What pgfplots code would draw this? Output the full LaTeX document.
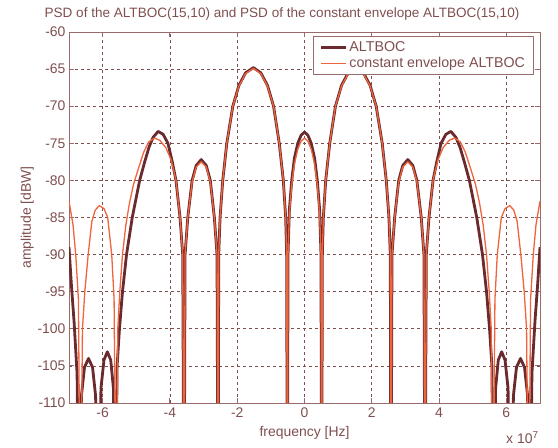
\documentclass[border=0pt]{standalone}
\usepackage{fontspec}
\setmainfont{Liberation Sans}
\usepackage{pgfplots}
\usepackage{pgfplotstable}
\pgfplotsset{compat=1.18}

\definecolor{txt}{HTML}{7F4F4F}
\definecolor{axc}{HTML}{9A6B6B}
\definecolor{dk}{HTML}{6B2A2E}
\definecolor{og}{HTML}{F0643C}

% ALTBOC(15,10) PSD, frequency in units of 1e7 Hz
\pgfplotstableread{
x y
-7.00 -89
-6.93 -94
-6.85 -99
-6.76 -106
-6.70 -130
-6.63 -109
-6.54 -105.2
-6.42 -104.0
-6.30 -105.2
-6.21 -109
-6.13 -130
-6.05 -108
-5.96 -104.2
-5.86 -103.1
-5.76 -104.2
-5.68 -108
-5.62 -130
-5.57 -105
-5.50 -100
-5.41 -95
-5.29 -90
-5.12 -85
-4.90 -80
-4.75 -77.5
-4.62 -75.5
-4.50 -74.2
-4.35 -73.4
-4.20 -73.8
-4.06 -75
-3.93 -77.5
-3.82 -80
-3.70 -85
-3.62 -90
-3.58 -130
-3.55 -90
-3.47 -85
-3.34 -80
-3.22 -78
-3.07 -77.2
-2.92 -78
-2.80 -80
-2.68 -85
-2.60 -90
-2.57 -130
-2.55 -90
-2.51 -85
-2.43 -80
-2.31 -75
-2.13 -70
-1.95 -67.2
-1.75 -65.5
-1.52 -64.8
-1.30 -65.5
-1.10 -67.2
-0.92 -70
-0.75 -75
-0.63 -80
-0.56 -85
-0.53 -90
-0.51 -130
-0.49 -90
-0.45 -84
-0.38 -80
-0.30 -77
-0.20 -75
-0.10 -73.9
0.00 -73.5
0.10 -73.9
0.20 -75
0.30 -77
0.38 -80
0.45 -84
0.49 -90
0.51 -130
0.53 -90
0.56 -85
0.63 -80
0.75 -75
0.92 -70
1.10 -67.2
1.30 -65.5
1.52 -64.8
1.75 -65.5
1.95 -67.2
2.13 -70
2.31 -75
2.43 -80
2.51 -85
2.55 -90
2.57 -130
2.60 -90
2.68 -85
2.80 -80
2.92 -78
3.07 -77.2
3.22 -78
3.34 -80
3.47 -85
3.55 -90
3.58 -130
3.62 -90
3.70 -85
3.82 -80
3.93 -77.5
4.06 -75
4.20 -73.8
4.35 -73.4
4.50 -74.2
4.62 -75.5
4.75 -77.5
4.90 -80
5.12 -85
5.29 -90
5.41 -95
5.50 -100
5.57 -105
5.62 -130
5.68 -108
5.76 -104.2
5.86 -103.1
5.96 -104.2
6.05 -108
6.13 -130
6.21 -109
6.30 -105.2
6.42 -104.0
6.54 -105.2
6.63 -109
6.70 -130
6.76 -106
6.85 -99
6.93 -94
7.00 -89
}\altboc

% constant envelope ALTBOC(15,10) PSD
\pgfplotstableread{
x y
-7.00 -82.8
-6.88 -86
-6.80 -90
-6.72 -96
-6.66 -130
-6.60 -100
-6.53 -95
-6.43 -90
-6.32 -85.5
-6.22 -84
-6.10 -83.4
-5.96 -83.8
-5.85 -85
-5.73 -90
-5.66 -96
-5.60 -130
-5.55 -100
-5.49 -95
-5.41 -90
-5.31 -86
-5.20 -83
-5.08 -80.5
-4.93 -78.3
-4.78 -76.2
-4.63 -74.8
-4.46 -74.3
-4.30 -74.6
-4.12 -75.6
-3.96 -77.3
-3.82 -80
-3.70 -85
-3.62 -90
-3.58 -130
-3.55 -90
-3.47 -85
-3.34 -80.2
-3.22 -78.2
-3.07 -77.5
-2.92 -78.2
-2.80 -80.2
-2.68 -85
-2.60 -90
-2.57 -130
-2.55 -90
-2.51 -85
-2.43 -80
-2.31 -75
-2.13 -70
-1.95 -67.3
-1.75 -65.6
-1.52 -64.9
-1.30 -65.6
-1.10 -67.3
-0.92 -70
-0.75 -75
-0.63 -80
-0.56 -85
-0.53 -90
-0.51 -130
-0.49 -90
-0.45 -84.5
-0.38 -80.6
-0.30 -77.8
-0.20 -75.8
-0.10 -74.7
0.00 -74.3
0.10 -74.7
0.20 -75.8
0.30 -77.8
0.38 -80.6
0.45 -84.5
0.49 -90
0.51 -130
0.53 -90
0.56 -85
0.63 -80
0.75 -75
0.92 -70
1.10 -67.3
1.30 -65.6
1.52 -64.9
1.75 -65.6
1.95 -67.3
2.13 -70
2.31 -75
2.43 -80
2.51 -85
2.55 -90
2.57 -130
2.60 -90
2.68 -85
2.80 -80.2
2.92 -78.2
3.07 -77.5
3.22 -78.2
3.34 -80.2
3.47 -85
3.55 -90
3.58 -130
3.62 -90
3.70 -85
3.82 -80
3.96 -77.3
4.12 -75.6
4.30 -74.6
4.46 -74.3
4.63 -74.8
4.78 -76.2
4.93 -78.3
5.08 -80.5
5.20 -83
5.31 -86
5.41 -90
5.49 -95
5.55 -100
5.60 -130
5.66 -96
5.73 -90
5.85 -85
5.96 -83.8
6.10 -83.4
6.22 -84
6.32 -85.5
6.43 -90
6.53 -95
6.60 -100
6.66 -130
6.72 -96
6.80 -90
6.88 -86
7.00 -82.8
}\cealtboc

\begin{document}
\begin{tikzpicture}[x=1bp,y=1bp]
\begin{axis}[
  at={(69bp,45bp)}, anchor=south west,
  scale only axis,
  width=471bp, height=371bp,
  xmin=-7, xmax=7,
  ymin=-110, ymax=-60,
  xtick={-6,-4,-2,0,2,4,6},
  xticklabels={-6,-4,-2,0,2,4,6},
  ytick={-110,-105,-100,-95,-90,-85,-80,-75,-70,-65,-60},
  yticklabels={-110,-105,-100,-95,-90,-85,-80,-75,-70,-65,-60},
  grid=major,
  major grid style={color=txt, line width=0.7bp, dash pattern=on 3bp off 3bp},
  axis line style={color=axc, line width=0.9bp},
  tick style={color=axc, line width=0.9bp},
  tick align=inside,
  major tick length=5bp,
  ticklabel style={font=\fontsize{14}{16}\selectfont, text=txt},
  xticklabel style={yshift=-1bp},
  xlabel={frequency [Hz]},
  ylabel={amplitude [dBW]},
  label style={font=\fontsize{14}{16}\selectfont, text=txt},
  xlabel style={yshift=-2bp},
  ylabel style={yshift=-3bp},
  legend style={at={(rel axis cs:0.986,0.989)}, anchor=north east,
    draw=axc, line width=0.9bp, fill=white, text=txt,
    font=\fontsize{14.3}{16}\selectfont,
    inner xsep=6bp, inner ysep=3bp, row sep=0.5bp},
  legend cell align=left,
  legend image code/.code={\draw[#1] (0bp,0bp) -- (25bp,0bp);},
  line join=round,
]
\addplot[color=dk, line width=2.8bp] table[x=x, y=y] {\altboc};
\addlegendentry{ALTBOC}
\addplot[color=og, line width=1.3bp] table[x=x, y=y] {\cealtboc};
\addlegendentry{constant envelope ALTBOC}
\end{axis}
\node[text=txt, font=\fontsize{13.6}{15}\selectfont] at (282,434) {PSD of the ALTBOC(15,10) and PSD of the constant envelope ALTBOC(15,10)};
\node[text=txt, font=\fontsize{14}{16}\selectfont, anchor=base west, inner sep=0pt] at (506,4) {x 10\raisebox{5bp}{\fontsize{10}{12}\selectfont 7}};
\pgfresetboundingbox
\path (0,0) rectangle (558,448);
\end{tikzpicture}
\end{document}
